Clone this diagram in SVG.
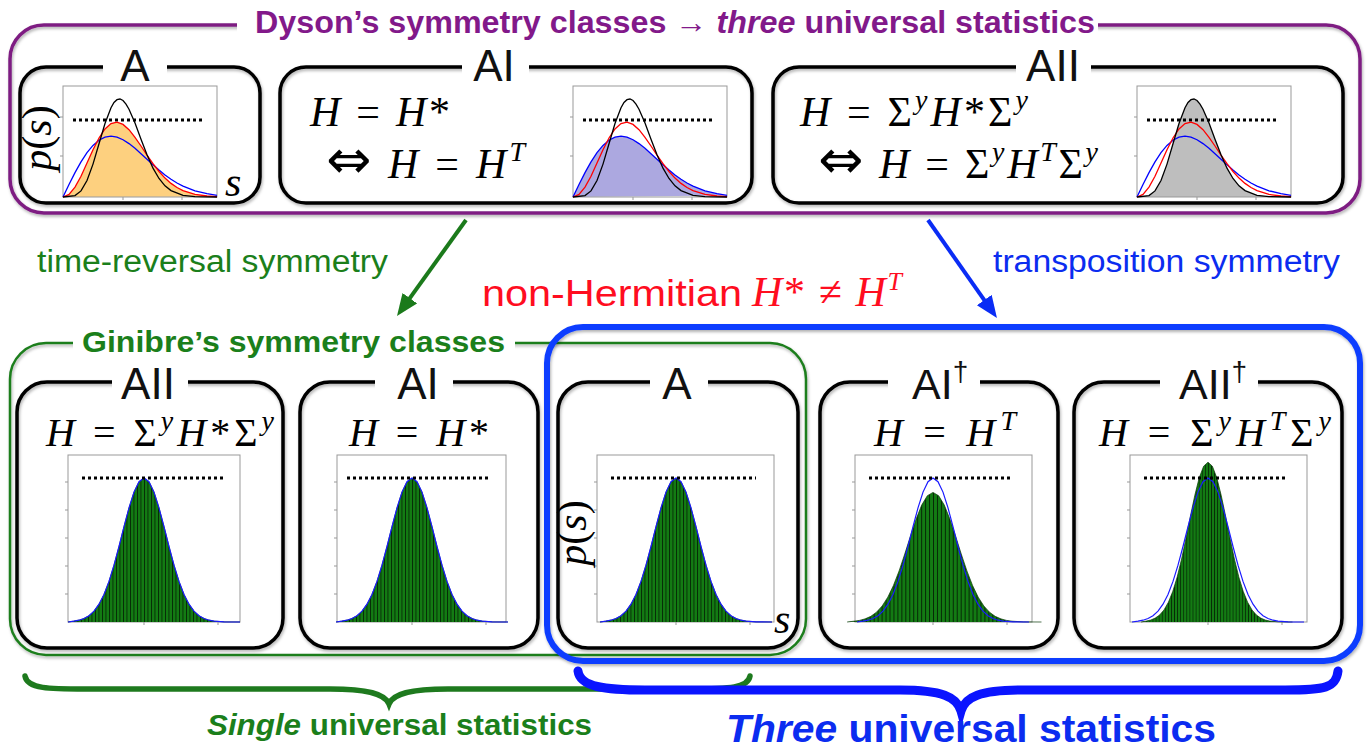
<svg xmlns="http://www.w3.org/2000/svg" xmlns:xlink="http://www.w3.org/1999/xlink" width="1370" height="750" viewBox="0 0 1370 750">
<style>
.box{fill:none;stroke:#000;stroke-width:3.5}
.wb{fill:#fff;stroke:none}
.lbl{font-family:"Liberation Sans",Arial,sans-serif;font-size:44px;fill:#111;text-anchor:middle}
.lbl2{font-family:"Liberation Sans",Arial,sans-serif;font-size:43px;fill:#111}
.math{font-family:"Liberation Serif","Times New Roman","DejaVu Serif",serif;font-style:italic;font-size:42px;fill:#000}
.mb{font-size:40px}
.up{font-style:normal}
.iff{font-family:"DejaVu Sans",sans-serif;font-style:normal;font-size:54px}
.sup{font-size:28px}
.frame{fill:none;stroke:#999;stroke-width:1}
.tick{fill:none;stroke:#999;stroke-width:1}
.dot{stroke:#000;stroke-width:3;stroke-dasharray:3 3;fill:none}
.hist{fill:url(#bars);stroke:#0a3a0a;stroke-width:0.7}
.fit{fill:none;stroke:#1a1aff;stroke-width:1.2}
.cb{fill:none;stroke:#0000ff;stroke-width:1.3}
.cr{fill:none;stroke:#ff0000;stroke-width:1.3}
.ck{fill:none;stroke:#000;stroke-width:1.3}
.sans{font-family:"Liberation Sans",Arial,sans-serif}
.bold{font-weight:bold}
.red{fill:#ff0d1f}
</style>
<defs>
<filter id="sh" x="-5%" y="-5%" width="110%" height="115%"><feDropShadow dx="1" dy="2" stdDeviation="1.5" flood-color="#000" flood-opacity="0.3"/></filter>
<pattern id="bars" width="3.5" height="10" patternUnits="userSpaceOnUse"><rect width="3.5" height="10" fill="#137b13"/><rect width="0.9" height="10" fill="#062806"/></pattern>
<marker id="ag" markerUnits="userSpaceOnUse" markerWidth="24" markerHeight="20" refX="4" refY="9" orient="auto"><path d="M0,0 L22,9 L0,18 z" fill="#1b7a1b"/></marker>
<marker id="abl" markerUnits="userSpaceOnUse" markerWidth="24" markerHeight="20" refX="4" refY="9" orient="auto"><path d="M0,0 L22,9 L0,18 z" fill="#0a2cf5"/></marker>
<path id="goe" d="M0,0 L6,-12.5 L12,-24.4 L18,-35.1 L24,-44.3 L30,-51.6 L36,-56.8 L42,-59.9 L48,-60.8 L54,-59.9 L60,-57.3 L66,-53.4 L72,-48.7 L78,-43.3 L84,-37.7 L90,-32.2 L96,-26.9 L102,-22 L108,-17.8 L114,-14 L120,-10.9 L132,-6.2 L144,-3.3 L154,-1.6"/>
<path id="gue" d="M0,0 L6,-2.6 L12,-9.9 L18,-20.8 L24,-33.9 L30,-47.2 L36,-59 L42,-68.1 L48,-73.5 L54,-74.9 L60,-72.6 L66,-67.3 L72,-59.7 L78,-51 L84,-41.9 L90,-33.3 L96,-25.5 L102,-18.9 L108,-13.6 L114,-9.5 L120,-6.4 L132,-2.6 L144,-1 L154,-0.3"/>
<path id="gse" d="M0,0 L12,-1.4 L18,-6.1 L24,-16.5 L30,-32.9 L36,-53.2 L42,-73.5 L48,-89.3 L51,-94.5 L54,-97.3 L57,-98 L60,-96.5 L63,-92.8 L66,-87.8 L72,-73.9 L78,-57.8 L84,-42.2 L90,-28.8 L96,-18.5 L102,-11.2 L108,-6.4 L120,-1.7 L132,-0.4 L154,0"/>
<path id="g" d="M-76,0 L-70,-0.9 L-65,-1.8 L-60,-3.5 L-55,-6.3 L-50,-10.9 L-45,-17.8 L-40,-27.6 L-35,-40.6 L-30,-56.8 L-25,-75.5 L-20,-95.3 L-15,-114.1 L-10,-129.9 L-5,-140.3 L0,-144 L5,-140.3 L10,-129.9 L15,-114.1 L20,-95.3 L25,-75.5 L30,-56.8 L35,-40.6 L40,-27.6 L45,-17.8 L50,-10.9 L55,-6.3 L60,-3.5 L65,-1.8 L70,-0.9 L80,-0.1 L96,0"/>
<g id="tframe">
<rect class="frame" x="0" y="-111" width="154" height="111"/>
<path class="tick" d="M0,-41 h-3 M0,-80 h-3 M60,0 v3 M119,0 v3"/>
<line class="dot" x1="10" y1="-77" x2="139" y2="-77"/>
</g>
<g id="bframe">
<path class="tick" d="M0,-28 h-3 M0,-56 h-3 M0,-84 h-3 M0,-112 h-3 M0,-140 h-3"/>
</g>
</defs>
<rect width="1370" height="750" fill="#fff"/>

<g id="dyson">
<rect x="10" y="25" width="1350" height="188" rx="34" fill="none" stroke="#7e1f82" stroke-width="3.5" filter="url(#sh)"/>
<rect class="wb" x="237" y="10" width="861" height="30"/>
<text class="sans bold" x="255" y="33" font-size="31" fill="#82198a" textLength="840" lengthAdjust="spacingAndGlyphs">Dyson’s symmetry classes → <tspan font-style="italic">three</tspan> universal statistics</text>
</g>

<g id="top-A">
<rect class="box" x="20" y="67" width="240" height="136" rx="26" filter="url(#sh)"/>
<rect class="wb" x="103" y="58" width="64" height="18"/>
<text class="lbl" x="135" y="81">A</text>
<g transform="translate(63,197)">
<use xlink:href="#gue" fill="#fdd07f" stroke="none"/>
<use xlink:href="#tframe"/>
<use xlink:href="#goe" class="cb"/>
<use xlink:href="#gue" class="cr"/>
<use xlink:href="#gse" class="ck"/>
</g>
<text class="math up" font-size="24" transform="translate(51,138) rotate(-90)" text-anchor="middle"><tspan font-style="italic">p</tspan>(<tspan font-style="italic">s</tspan>)</text>
<text class="math" x="225" y="196" font-size="32">s</text>
</g>

<g id="top-AI">
<rect class="box" x="280" y="67" width="472" height="136" rx="26" filter="url(#sh)"/>
<rect class="wb" x="462" y="58" width="67" height="18"/>
<text class="lbl" x="494" y="81">AI</text>
<text class="math" x="310" y="126" textLength="140" lengthAdjust="spacing">H<tspan class="up"> = </tspan>H<tspan class="up">*</tspan></text>
<text class="math" x="326" y="178" textLength="199" lengthAdjust="spacing"><tspan class="iff">⇔</tspan> H<tspan class="up"> = </tspan>H<tspan class="sup" dy="-17">T</tspan></text>
<g transform="translate(573,197)">
<use xlink:href="#goe" fill="#aca8e0" stroke="none"/>
<use xlink:href="#tframe"/>
<use xlink:href="#goe" class="cb"/>
<use xlink:href="#gue" class="cr"/>
<use xlink:href="#gse" class="ck"/>
</g>
</g>

<g id="top-AII">
<rect class="box" x="773" y="67" width="570" height="136" rx="26" filter="url(#sh)"/>
<rect class="wb" x="1016" y="58" width="75" height="18"/>
<text class="lbl" x="1053" y="81">AII</text>
<text class="math" x="800" y="126" textLength="228" lengthAdjust="spacing">H<tspan class="up"> = Σ</tspan><tspan class="sup" dy="-17">y</tspan><tspan dy="17">H</tspan><tspan class="up">*Σ</tspan><tspan class="sup" dy="-17">y</tspan></text>
<text class="math" x="818" y="178" textLength="280" lengthAdjust="spacing"><tspan class="iff">⇔</tspan> H<tspan class="up"> = Σ</tspan><tspan class="sup" dy="-17">y</tspan><tspan dy="17">H</tspan><tspan class="sup" dy="-17">T</tspan><tspan class="up" dy="17">Σ</tspan><tspan class="sup" dy="-17">y</tspan></text>
<g transform="translate(1137,197)">
<use xlink:href="#gse" fill="#bebebe" stroke="none"/>
<use xlink:href="#tframe"/>
<use xlink:href="#goe" class="cb"/>
<use xlink:href="#gue" class="cr"/>
<use xlink:href="#gse" class="ck"/>
</g>
</g>

<g id="connectors">
<line x1="466" y1="220" x2="407.5" y2="301.4" stroke="#1b7a1b" stroke-width="4" marker-end="url(#ag)"/>
<line x1="928" y1="220" x2="986.6" y2="303.3" stroke="#0a2cf5" stroke-width="4" marker-end="url(#abl)"/>
</g>

<g id="labels-mid">
<text class="sans" x="37" y="272" font-size="31" fill="#1b7f1b" textLength="351" lengthAdjust="spacingAndGlyphs">time-reversal symmetry</text>
<text class="sans" x="993" y="272" font-size="31" fill="#0b2cf0" textLength="347" lengthAdjust="spacingAndGlyphs">transposition symmetry</text>
<text class="sans" x="482" y="306" font-size="37" fill="#ff0d1f" textLength="260" lengthAdjust="spacingAndGlyphs">non-Hermitian</text>
<text class="math red" x="752" y="306" font-size="38" textLength="150" lengthAdjust="spacing">H<tspan class="up">* ≠ </tspan>H<tspan font-size="26" dy="-16">T</tspan></text>
</g>

<g id="ginibre">
<rect x="10" y="343" width="796" height="312" rx="36" fill="none" stroke="#1e7e1e" stroke-width="2.5" filter="url(#sh)"/>
<rect class="wb" x="73" y="333" width="442" height="20"/>
<text class="sans bold" x="82" y="352" font-size="30" fill="#1b7f1b" textLength="423" lengthAdjust="spacingAndGlyphs">Ginibre’s symmetry classes</text>
</g>
<g id="transposition-group">
<rect x="547" y="327" width="813" height="334" rx="36" fill="none" stroke="#0a3cff" stroke-width="6" filter="url(#sh)"/>
</g>

<g id="bot-AII">
<rect class="box" x="17" y="382" width="266" height="266" rx="30" filter="url(#sh)"/>
<rect class="wb" x="112" y="372" width="76" height="20"/>
<text class="lbl" x="148" y="399" font-size="43">AII</text>
<text class="math mb" x="46" y="446" textLength="228" lengthAdjust="spacing">H<tspan class="up"> = Σ</tspan><tspan class="sup" dy="-16">y</tspan><tspan dy="16">H</tspan><tspan class="up">*Σ</tspan><tspan class="sup" dy="-16">y</tspan></text>
<rect class="frame" x="68" y="455" width="172" height="167"/>
<use xlink:href="#bframe" transform="translate(68,622)"/>
<path class="tick" d="M144,622 v3 M218,622 v3"/>
<use xlink:href="#g" class="hist" transform="translate(144,622)"/>
<use xlink:href="#g" class="fit" transform="translate(144,622)"/>
<line class="dot" x1="82" y1="478" x2="224" y2="478"/>
</g>

<g id="bot-AI">
<rect class="box" x="300" y="382" width="238" height="266" rx="30" filter="url(#sh)"/>
<rect class="wb" x="375" y="372" width="78" height="20"/>
<text class="lbl" x="418" y="399" font-size="43">AI</text>
<text class="math mb" x="349" y="446" textLength="140" lengthAdjust="spacing">H<tspan class="up"> = </tspan>H<tspan class="up">*</tspan></text>
<rect class="frame" x="337" y="455" width="169" height="167"/>
<use xlink:href="#bframe" transform="translate(337,622)"/>
<path class="tick" d="M412,622 v3 M486,622 v3"/>
<use xlink:href="#g" class="hist" transform="translate(412,622)"/>
<use xlink:href="#g" class="fit" transform="translate(412,622)"/>
<line class="dot" x1="347" y1="478" x2="490" y2="478"/>
</g>

<g id="bot-A">
<rect class="box" x="558" y="382" width="240" height="266" rx="30" filter="url(#sh)"/>
<rect class="wb" x="650" y="372" width="58" height="20"/>
<text class="lbl" x="677" y="399" font-size="43">A</text>
<rect class="frame" x="597" y="455" width="177" height="167"/>
<use xlink:href="#bframe" transform="translate(597,622)"/>
<path class="tick" d="M676,622 v3 M750,622 v3"/>
<use xlink:href="#g" class="hist" transform="translate(676,622)"/>
<use xlink:href="#g" class="fit" transform="translate(676,622)"/>
<line class="dot" x1="611" y1="478" x2="756" y2="478"/>
<text class="math up" font-size="24" transform="translate(586,533) rotate(-90)" text-anchor="middle"><tspan font-style="italic">p</tspan>(<tspan font-style="italic">s</tspan>)</text>
<text class="math" x="774" y="633" font-size="32">s</text>
</g>

<g id="bot-AIdag">
<rect class="box" x="820" y="382" width="238" height="266" rx="30" filter="url(#sh)"/>
<rect class="wb" x="888" y="362" width="92" height="30"/>
<text class="lbl2" x="912" y="399">AI<tspan font-size="28" dy="-18">†</tspan></text>
<text class="math mb" x="874" y="446" textLength="142" lengthAdjust="spacing">H<tspan class="up"> = </tspan>H<tspan class="sup" dy="-16">T</tspan></text>
<rect class="frame" x="855" y="455" width="177" height="167"/>
<use xlink:href="#bframe" transform="translate(855,622)"/>
<path class="tick" d="M933,622 v3 M1007,622 v3"/>
<use xlink:href="#g" class="hist" transform="translate(933,622) scale(1.13,0.9)"/>
<use xlink:href="#g" class="fit" transform="translate(933,622)"/>
<line class="dot" x1="869" y1="478" x2="1013" y2="478"/>
</g>

<g id="bot-AIIdag">
<rect class="box" x="1074" y="382" width="268" height="266" rx="30" filter="url(#sh)"/>
<rect class="wb" x="1160" y="362" width="98" height="30"/>
<text class="lbl2" x="1179" y="399">AII<tspan font-size="28" dy="-18">†</tspan></text>
<text class="math mb" x="1099" y="446" textLength="232" lengthAdjust="spacing">H<tspan class="up"> = Σ</tspan><tspan class="sup" dy="-16">y</tspan><tspan dy="16">H</tspan><tspan class="sup" dy="-16">T</tspan><tspan class="up" dy="16">Σ</tspan><tspan class="sup" dy="-16">y</tspan></text>
<rect class="frame" x="1130" y="455" width="177" height="167"/>
<use xlink:href="#bframe" transform="translate(1130,622)"/>
<path class="tick" d="M1208,622 v3 M1282,622 v3"/>
<use xlink:href="#g" class="hist" transform="translate(1208,622) scale(0.88,1.11)"/>
<use xlink:href="#g" class="fit" transform="translate(1208,622)"/>
<line class="dot" x1="1144" y1="478" x2="1288" y2="478"/>
</g>

<g id="braces">
<path d="M25,676 C27,689 50,689 85,689 L330,689 C368,689 385,694 389,704 C393,694 410,689 448,689 L690,689 C730,689 748,688 750,676" fill="none" stroke="#1e7a1e" stroke-width="5.5" stroke-linecap="round"/>
<path d="M578,671 C580,687 605,690 645,690 L900,690 C942,690 957,697 961,711 C965,697 980,690 1022,690 L1285,690 C1325,690 1336,688 1338,671" fill="none" stroke="#0a14ff" stroke-width="9" stroke-linecap="round"/>
</g>

<g id="bottom-labels">
<text class="sans bold" x="207" y="735" font-size="29" fill="#1b7f1b" textLength="385" lengthAdjust="spacingAndGlyphs"><tspan font-style="italic">Single</tspan> universal statistics</text>
<text class="sans bold" x="726" y="742" font-size="38" fill="#0b2cf0" textLength="490" lengthAdjust="spacingAndGlyphs"><tspan font-style="italic">Three</tspan> universal statistics</text>
</g>
</svg>
